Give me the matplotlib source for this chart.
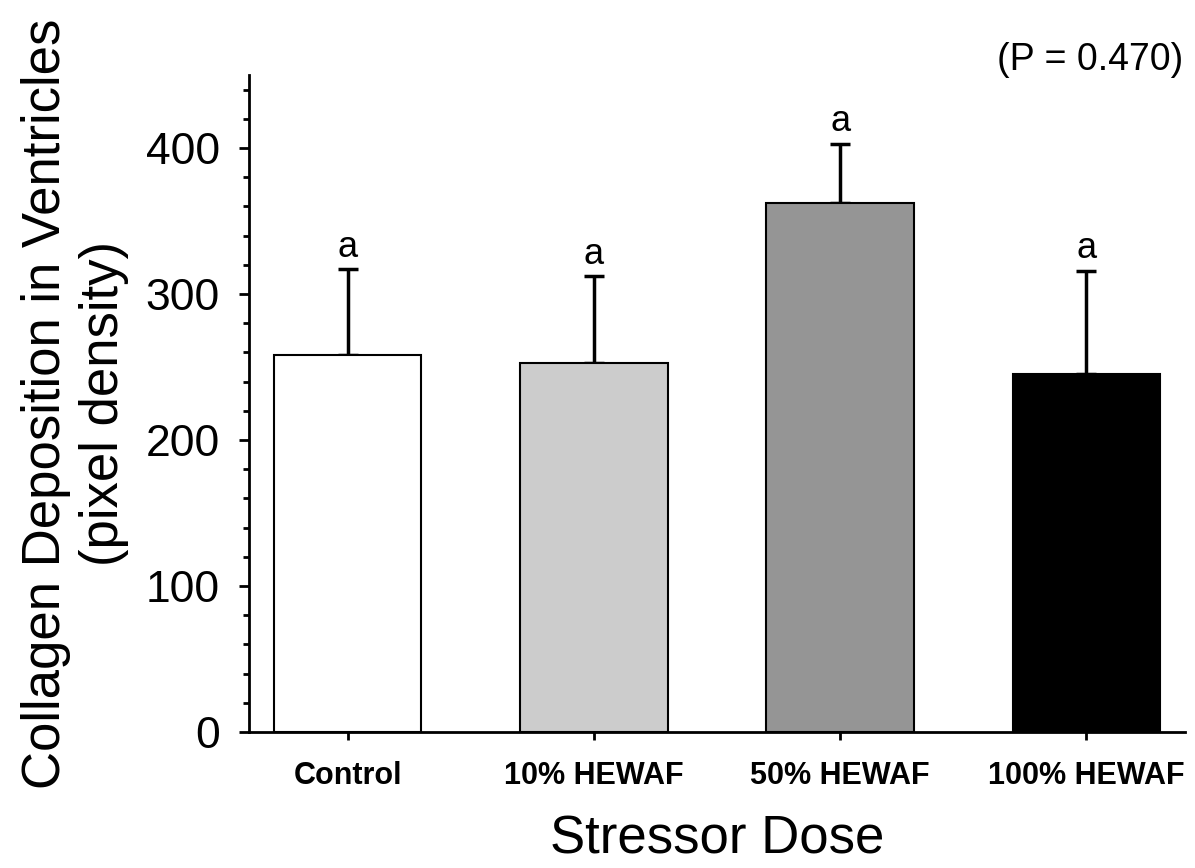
import matplotlib.pyplot as plt
import numpy as np

plt.rcParams['font.family'] = ['Liberation Sans', 'DejaVu Sans']

# data
groups = ['Control', '10% HEWAF', '50% HEWAF', '100% HEWAF']
means = [258, 253, 362, 245]
errors = [59, 59, 41, 71]
letters = ['a', 'a', 'a', 'a']
colors = ['#ffffff', '#cccccc', '#959595', '#000000']

x = np.arange(len(groups))

fig = plt.figure(figsize=(11.95, 8.68), dpi=100)
ax = fig.add_axes([0.2084, 0.1567, 0.7832, 0.7569])

ax.errorbar(x, means, yerr=[np.zeros(len(means)), errors], fmt='none',
            ecolor='black', elinewidth=2.5, capsize=7, capthick=2.5, zorder=1)
ax.bar(x, means, width=0.6, color=colors, edgecolor='black', linewidth=1.5, zorder=2)

for xi, m, e, t in zip(x, means, errors, letters):
    ax.annotate(t, (xi, m + e), xytext=(0, 3), textcoords='offset points',
                ha='center', va='bottom', fontsize=26)

ax.set_xlim(-0.4, 3.4)
ax.set_ylim(0, 450)
ax.set_yticks([0, 100, 200, 300, 400])
ax.set_yticks(np.arange(0, 451, 20), minor=True)
ax.set_xticks(x)
ax.set_xticklabels(groups, fontsize=22, fontweight='bold')
ax.tick_params(axis='y', labelsize=32, width=2, length=7, direction='out', pad=14)
ax.tick_params(axis='y', which='minor', width=2, length=4)
ax.tick_params(axis='x', width=2, length=6, pad=15)

for s in ['top', 'right']:
    ax.spines[s].set_visible(False)
for s in ['left', 'bottom']:
    ax.spines[s].set_linewidth(2)

ax.set_ylabel('Collagen Deposition in Ventricles\n(pixel density)', fontsize=38, labelpad=12)
ax.set_xlabel('Stressor Dose', fontsize=38, labelpad=17)

fig.text(0.99, 0.931, '(P = 0.470)', ha='right', va='center', fontsize=27)

fig.savefig('out.png', dpi=100)
